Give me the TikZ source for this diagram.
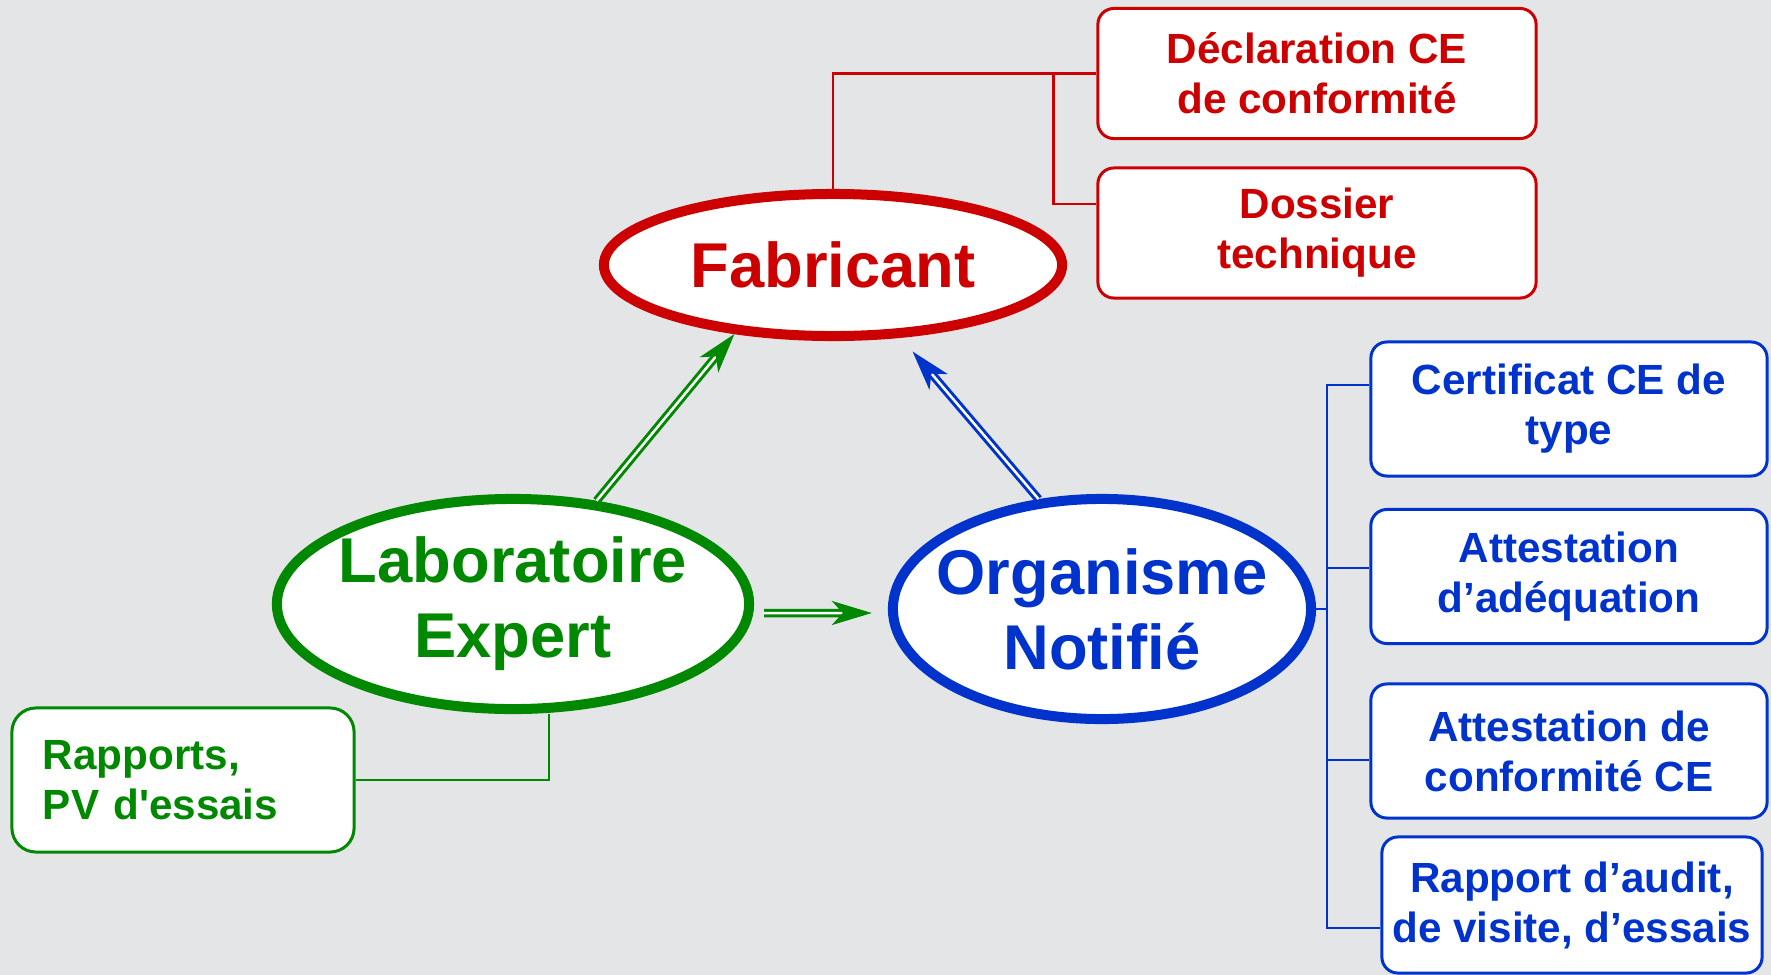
\documentclass[tikz,border=0pt]{standalone}
\usepackage{fontspec}
\setmainfont{Liberation Sans}
\usetikzlibrary{shapes.geometric,arrows.meta}

\definecolor{fabred}{RGB}{204,0,0}
\definecolor{labgreen}{RGB}{0,136,0}
\definecolor{orgblue}{RGB}{0,51,204}
\definecolor{marble}{RGB}{227,229,231}

\begin{document}
\begin{tikzpicture}[x=0.01cm,y=-0.01cm,
  bigoval/.style={ellipse,draw,fill=white,line width=0.1cm,inner sep=-0.25cm,align=center,font=\fontsize{18}{21.3}\selectfont\bfseries},
  docbox/.style={rectangle,rounded corners=0.16cm,draw,fill=white,line width=0.03cm,inner xsep=0.05cm,align=center,font=\fontsize{12}{14.2}\selectfont\bfseries},
  fabdoc/.style={docbox,draw=fabred,text=fabred,minimum width=4.38cm,minimum height=1.3cm},
  orgdoc/.style={docbox,draw=orgblue,text=orgblue,minimum width=3.96cm,minimum height=1.34cm},
  link/.style={line width=0.025cm},
  dblarrow/.style={double=white,double distance=0.025cm,line width=0.03cm,-{Stealth[length=0.4cm,width=0.24cm,inset=0.11cm]}}]

\useasboundingbox (0,0) rectangle (1771,975);
\fill[marble] (0,0) rectangle (1771,975);

\node[bigoval,draw=fabred,text=fabred,minimum width=4.58cm,minimum height=1.42cm] (fab) at (833,265) {Fabricant};
\node[bigoval,draw=labgreen,text=labgreen,minimum width=4.72cm,minimum height=2.1cm] (lab) at (513,604) {Laboratoire\\Expert};
\node[bigoval,draw=orgblue,text=orgblue,minimum width=4.18cm,minimum height=2.2cm] (org) at (1102,609) {Organisme\\Notifié};

\node[fabdoc] (decl) at (1317,73.5) {Déclaration CE\\de conformité};
\node[fabdoc] (doss) at (1317,233) {Dossier\\technique};

\node[orgdoc] (cert) at (1569,409) {Certificat CE de\\type};
\node[orgdoc] (adeq) at (1569,576.5) {Attestation\\d’adéquation};
\node[orgdoc] (conf) at (1569,751) {Attestation de\\conformité CE};
\node[orgdoc,minimum width=3.8cm,minimum height=1.36cm] (rapp) at (1572,905) {Rapport d’audit,\\de visite, d’essais};

\node[docbox,rounded corners=0.24cm,draw=labgreen,text=labgreen,align=left,text width=2.8cm,inner xsep=0.31cm,minimum height=1.44cm] (pv) at (183,780) {Rapports,\\PV d\textquotesingle essais};

\coordinate (fabfork) at ([xshift=-0.43cm]decl.west);
\coordinate (dossin) at ([yshift=0.29cm]doss.west);
\draw[link,fabred] (fab.north) |- (decl.west);
\draw[link,fabred] (fabfork) |- (dossin);

\coordinate (orgtrunk) at ([xshift=0.11cm]org.east);
\coordinate (certin) at ([yshift=0.24cm]cert.west);
\coordinate (adeqin) at ([yshift=0.085cm]adeq.west);
\coordinate (confin) at ([yshift=-0.09cm]conf.west);
\coordinate (rappin) at ([yshift=-0.23cm]rapp.west);
\draw[link,orgblue] (org.east) -- (orgtrunk);
\draw[link,orgblue] (certin) -| (orgtrunk |- rappin) -- (rappin);
\draw[link,orgblue] (orgtrunk |- adeqin) -- (adeqin);
\draw[link,orgblue] (orgtrunk |- confin) -- (confin);

\coordinate (labfoot) at ([xshift=0.36cm]lab.south);
\draw[link,labgreen] (labfoot) |- (pv.east);

\draw[dblarrow,labgreen] (lab.51) -- (fab.215);
\draw[dblarrow,orgblue,shorten >=0.18cm] (org.120) -- (fab.313);
\draw[dblarrow,labgreen] ([xshift=0.1cm,yshift=-0.09cm]lab.east) -- ([xshift=-0.16cm,yshift=-0.04cm]org.west);

\end{tikzpicture}
\end{document}
